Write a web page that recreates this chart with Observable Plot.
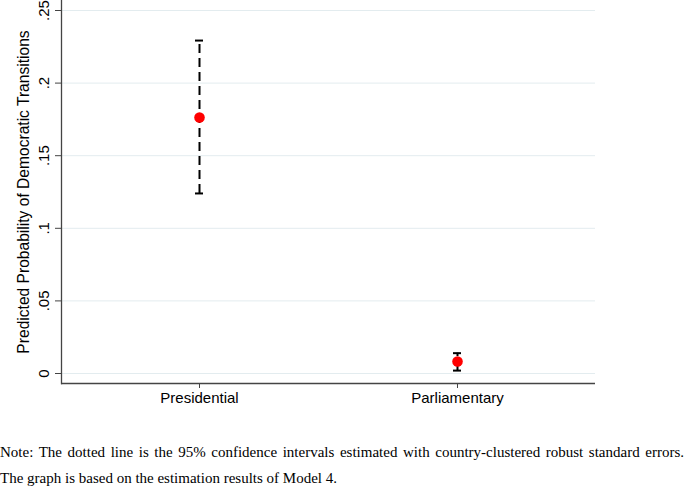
<!DOCTYPE html>
<html>
<head>
<meta charset="utf-8">
<script src="https://cdn.jsdelivr.net/npm/d3@7"></script>
<script src="https://cdn.jsdelivr.net/npm/@observablehq/plot@0.6"></script>
<style>
  html, body { margin: 0; padding: 0; background: #fff; }
  #note { font-family: "Liberation Serif", "Times New Roman", serif; font-size: 15px; line-height: 26px; margin-top: 19px; color: #000; }
  #note .l1 { width: 684px; text-align: justify; text-align-last: justify; white-space: nowrap; }
  #note .l2 { white-space: nowrap; }
</style>
</head>
<body>
<div id="chart"></div>
<div id="note"></div>
<script>
const categories = ["Presidential", "Parliamentary"];
const estimates = [0.1763, 0.0083];
const lower = [0.124, 0.002];
const upper = [0.2293, 0.014];
const yTicks = [0, 0.05, 0.1, 0.15, 0.2, 0.25];
const yTickLabels = ["0", ".05", ".1", ".15", ".2", ".25"];
const yLabel = "Predicted Probability of Democratic Transitions";
const noteLines = [
  "Note: The dotted line is the 95% confidence intervals estimated with country-clustered robust standard errors.",
  "The graph is based on the estimation results of Model 4."
];

const data = categories.map((c, i) => ({cat: c, est: estimates[i], lo: lower[i], hi: upper[i]}));
const yMin = -0.006887, yMax = 0.25689;

const chart = Plot.plot({
  width: 685,
  height: 420,
  marginLeft: 61,
  marginRight: 90,
  marginTop: 0,
  marginBottom: 37,
  style: {fontFamily: "'Liberation Sans', Arial, sans-serif", fontSize: "15px", color: "#000", background: "#fff"},
  x: {type: "band", domain: categories, paddingInner: 0.969, paddingOuter: 0.5194, round: false, label: null},
  y: {domain: [yMin, yMax], label: null},
  marks: [
    Plot.gridY(yTicks, {stroke: "#e3ecef", strokeOpacity: 1, strokeWidth: 1}),
    Plot.axisY({ticks: yTicks, tickSize: 6, stroke: "#444", text: null, label: null}),
    Plot.text(yTicks, {y: (d) => d, text: (d, i) => yTickLabels[i], frameAnchor: "left", dx: -17, rotate: -90, fontSize: 15, textAnchor: "middle", lineAnchor: "middle", fill: "#000"}),
    Plot.text([yLabel], {frameAnchor: "left", dx: -38, rotate: -90, fontSize: 15.6, textAnchor: "middle", fill: "#000"}),
    Plot.axisX({tickSize: 5, tickPadding: 4, stroke: "#444", fontSize: 15, label: null}),
    Plot.ruleY([yMin], {stroke: "#444", strokeWidth: 1.3}),
    Plot.frame({anchor: "left", stroke: "#444", strokeWidth: 1.3}),
    Plot.ruleX(data, {x: "cat", y1: "lo", y2: "hi", stroke: "#000", strokeWidth: 2, strokeDasharray: "9,5"}),
    Plot.tickY(data, {x: "cat", y: "hi", stroke: "#000", strokeWidth: 2}),
    Plot.tickY(data, {x: "cat", y: "lo", stroke: "#000", strokeWidth: 2}),
    Plot.dot(data, {x: "cat", y: "est", r: 5.3, fill: "#ff0000", stroke: "none"})
  ]
});
document.getElementById("chart").appendChild(chart);
document.getElementById("note").innerHTML = `<div class="l1">${noteLines[0]}</div><div class="l2">${noteLines[1]}</div>`;
</script>
</body>
</html>
